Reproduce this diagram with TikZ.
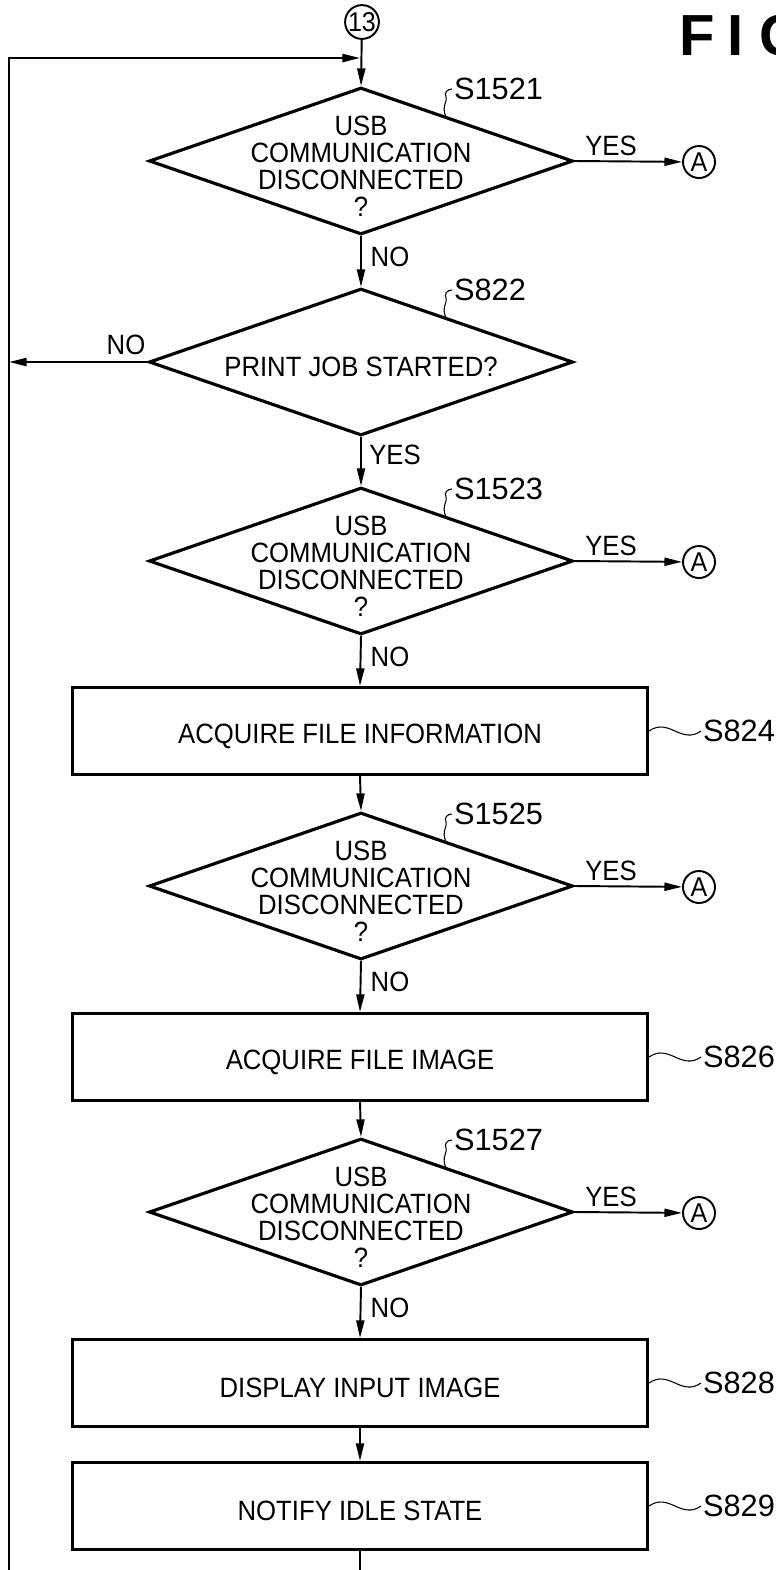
\documentclass[tikz,border=0pt]{standalone}
\usepackage{fontspec}
\setmainfont[FakeStretch=0.92]{Liberation Sans}
\newfontfamily\labelfont{Liberation Sans}
\newfontfamily\figfont{Liberation Sans}
\usetikzlibrary{shapes.geometric,arrows.meta}

\tikzset{
  decision/.style={diamond, draw, line width=1.8pt, minimum width=8.48cm, minimum height=2.94cm, inner sep=0pt},
  process/.style={rectangle, draw, line width=1.8pt, minimum width=11.5cm, minimum height=1.74cm},
  connector/.style={circle, draw, line width=1.1pt, minimum size=0.64cm, inner sep=0pt, font=\fontsize{15.5}{15.5}\selectfont},
  flow/.style={line width=1.1pt, -{Triangle[length=10pt,width=4.6pt]}},
  steplabel/.style={anchor=west, inner sep=1pt, font=\labelfont\fontsize{17.5}{18}\selectfont},
  answer/.style={inner sep=0pt},
  wiggle/.style={line width=0.6pt},
}

\begin{document}
\begin{tikzpicture}[x=0.02cm, y=-0.02cm, font=\fontsize{15.9}{15.3}\selectfont]
\useasboundingbox (0,0) rectangle (775,1570);

% heading, runs off the right edge of the sheet
\begin{scope}
  \clip (0,0) rectangle (775,1570);
  \node[anchor=base west, inner sep=0pt, font=\figfont\bfseries\fontsize{33}{33}\selectfont] (fig) at (679,55) {F\hspace{7.4pt}I\hspace{9pt}G};
\end{scope}

\node[connector] (c13) at (362,22) {13};

% the four "USB disconnected?" checks
\foreach \name/\y in {1521/161, 1523/561, 1525/886, 1527/1212} {
  \node[decision, label={[align=center, yshift=-3pt]center:USB\\COMMUNICATION\\DISCONNECTED\\?}] (d\name) at (361,\y) {};
  \node[connector] (a\name) at (699,\y+1) {A};
  \draw[flow] (d\name.east) -- (a\name);
  \node[answer] (yes\name) at (611,\y-15) {YES};
  \node[answer] (no\name) at (390,\y+96) {NO};
  \draw[wiggle] (446,\y-44) .. controls (441,\y-55) and (448,\y-60) .. (446,\y-64)
                .. controls (444,\y-68) and (447,\y-72) .. (452,\y-72);
  \node[steplabel] (s\name) at (452,\y-72) {S\name};
}

% print job check
\node[decision, label={[yshift=-3pt]center:PRINT JOB STARTED?}] (d822) at (361,362) {};
\node[answer] (no822) at (126,345) {NO};
\node[answer] (yes822) at (395,455) {YES};
\draw[wiggle] (446,318) .. controls (441,307) and (448,302) .. (446,298)
              .. controls (444,294) and (447,290) .. (452,290);
\node[steplabel] (s822) at (452,290) {S822};

% processing steps
\foreach \name/\y/\txt in {824/731/ACQUIRE FILE INFORMATION, 826/1057/ACQUIRE FILE IMAGE,
                           828/1383/DISPLAY INPUT IMAGE, 829/1506/NOTIFY IDLE STATE} {
  \node[process, label={[yshift=-3pt]center:\txt}] (p\name) at (360,\y) {};
  \coordinate (t\name) at (701,\y);
  \draw[wiggle] (p\name.east) .. controls +(20,-14) and +(-20,14) .. (t\name);
  \node[steplabel] (s\name) at (t\name) {S\name};
}

% main flow
\draw[flow] (c13) -- (d1521.north);
\draw[flow] (d1521.south) -- (d822.north);
\draw[flow] (d822.south) -- (d1523.north);
\draw[flow] (d1523.south) -- (p824.north);
\draw[flow] (p824.south) -- (d1525.north);
\draw[flow] (d1525.south) -- (p826.north);
\draw[flow] (p826.south) -- (d1527.north);
\draw[flow] (d1527.south) -- (p828.north);
\draw[flow] (p828.south) -- (p829.north);
\coordinate (out) at (360,1570);
\draw[line width=1.1pt] (p829.south) -- (out);

% return path on the left
\coordinate (back) at (9,1570);
\coordinate (loopin) at (360,58);
\coordinate (loopno) at (9,362);
\draw[flow] (back) |- (loopin);
\draw[flow] (d822.west) -- (loopno);
\end{tikzpicture}
\end{document}
